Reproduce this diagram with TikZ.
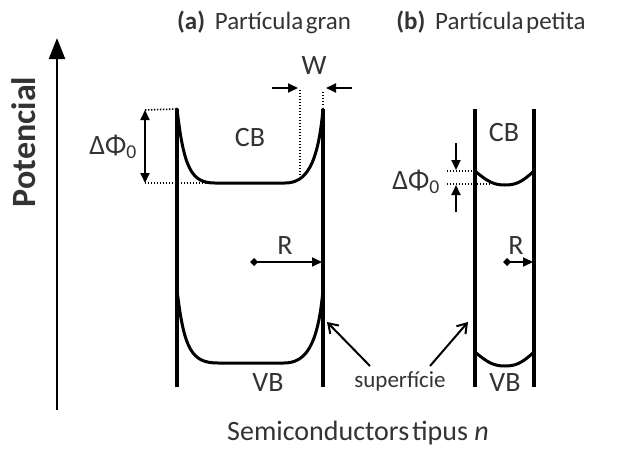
\documentclass[tikz,border=0pt]{standalone}
\usepackage{fontspec}
\setmainfont{Carlito}
\usetikzlibrary{arrows.meta}
\begin{document}
\begin{tikzpicture}[x=1pt,y=-1pt,
  wall/.style={line width=3.2pt},
  band/.style={line width=3pt,line cap=round},
  dots/.style={line width=1.6pt,dash pattern=on 1.4pt off 1.6pt},
  arr/.style={line width=1.8pt,-{Triangle[length=10pt,width=9pt]}},
  darr/.style={line width=1.8pt,{Triangle[length=10pt,width=9pt]}-{Triangle[length=10pt,width=9pt]}},
  rarr/.style={line width=1.8pt,{Diamond[length=8pt,width=8pt]}-{Triangle[length=10pt,width=9pt]}},
  lbl/.style={text=black!80,font=\fontsize{28}{32}\selectfont,inner sep=0pt},
  every node/.style={inner sep=0pt}]
\useasboundingbox (0,0) rectangle (617,452);
% axis
\coordinate (ab) at (57,410);
\coordinate (at) at (57,38);
\draw[line width=2.4pt,-{Triangle[length=21pt,width=16pt]}] (ab) -- (at);
\node[lbl,rotate=90,font=\fontsize{34}{38}\selectfont\bfseries] (pot) at (24,142) {Potencial};
% titles
\node[lbl,font=\fontsize{25}{28}\selectfont] (ta) at (264,22) {\textbf{(a)}\, Partícula\hspace{0.1em}gran};
\node[lbl,font=\fontsize{25}{28}\selectfont] (tb) at (491,22) {\textbf{(b)}\, Partícula\hspace{0.1em}petita};
% particle a walls
\coordinate (aLt) at (177,109); \coordinate (aLb) at (177,387);
\coordinate (aRt) at (323,109); \coordinate (aRb) at (323,387);
\draw[wall] (aLt) -- (aLb);
\draw[wall] (aRt) -- (aRb);
% CB a
\draw[band] (aLt) .. controls (184,170) and (192,183) .. (215,183) -- (285,183) .. controls (306,183) and (318,165) .. (aRt);
% VB a
\draw[band] (177,290) .. controls (184,350) and (192,363) .. (218,363) -- (284,363) .. controls (306,363) and (318,345) .. (323,290);
% dotted a
\coordinate (d1) at (145,110); \coordinate (d2) at (145,183);
\draw[dots] (d1) -- (aLt);
\draw[dots] (d2) -- (210,183);
\draw[darr] (d1) -- (d2);
\node[lbl] (dphia) at (113,147) {ΔΦ\textsubscript{0}};
% W
\coordinate (w1) at (272,88); \coordinate (w2) at (298,88);
\coordinate (w3) at (352,88); \coordinate (w4) at (326,88);
\draw[arr] (w1) -- (w2);
\draw[arr] (w3) -- (w4);
\draw[dots] (300,90) -- (300,176);
\draw[dots] (323,92) -- (323,106);
\node[lbl] (W) at (314,66) {W};
\node[lbl] (cba) at (250,138) {CB};
\node[lbl] (vba) at (268,383) {VB};
% R a
\coordinate (ra) at (250,262); \coordinate (rae) at (322,262);
\draw[rarr] (ra) -- (rae);
\node[lbl] (Ra) at (285,246) {R};
% particle b
\coordinate (bLt) at (475,109); \coordinate (bLb) at (475,387);
\coordinate (bRt) at (534,109); \coordinate (bRb) at (534,387);
\draw[wall] (bLt) -- (bLb);
\draw[wall] (bRt) -- (bRb);
\draw[band] (475,171) .. controls (488,182) and (494,185) .. (505,185) .. controls (516,185) and (522,182) .. (534,171);
\draw[band] (475,352) .. controls (488,363) and (494,366) .. (505,366) .. controls (516,366) and (522,363) .. (534,352);
\draw[dots] (447,171) -- (475,171);
\draw[dots] (447,184) -- (491,184);
\coordinate (e1) at (456,143); \coordinate (e2) at (456,170);
\coordinate (e3) at (456,212); \coordinate (e4) at (456,185);
\draw[arr] (e1) -- (e2);
\draw[arr] (e3) -- (e4);
\node[lbl] (dphib) at (416,182) {ΔΦ\textsubscript{0}};
\node[lbl] (cbb) at (504,133) {CB};
\node[lbl] (vbb) at (505,383) {VB};
\coordinate (rb) at (503,262); \coordinate (rbe) at (533,262);
\draw[rarr] (rb) -- (rbe);
\node[lbl] (Rb) at (516,246) {R};
% superficie
\node[lbl,font=\fontsize{23}{26}\selectfont] (sup) at (400,381) {superfície};
\coordinate (s1) at (370,366); \coordinate (s2) at (327,322);
\coordinate (s3) at (430,366); \coordinate (s4) at (468,322);
\draw[line width=2pt,-{Straight Barb[length=9pt,width=12pt]}] (s1) -- (s2);
\draw[line width=2pt,-{Straight Barb[length=9pt,width=12pt]}] (s3) -- (s4);
% bottom
\node[lbl,font=\fontsize{28}{32}\selectfont] (semi) at (358,433) {Semiconductors\hspace{0.1em}tipus \textit{n}};
\end{tikzpicture}
\end{document}
